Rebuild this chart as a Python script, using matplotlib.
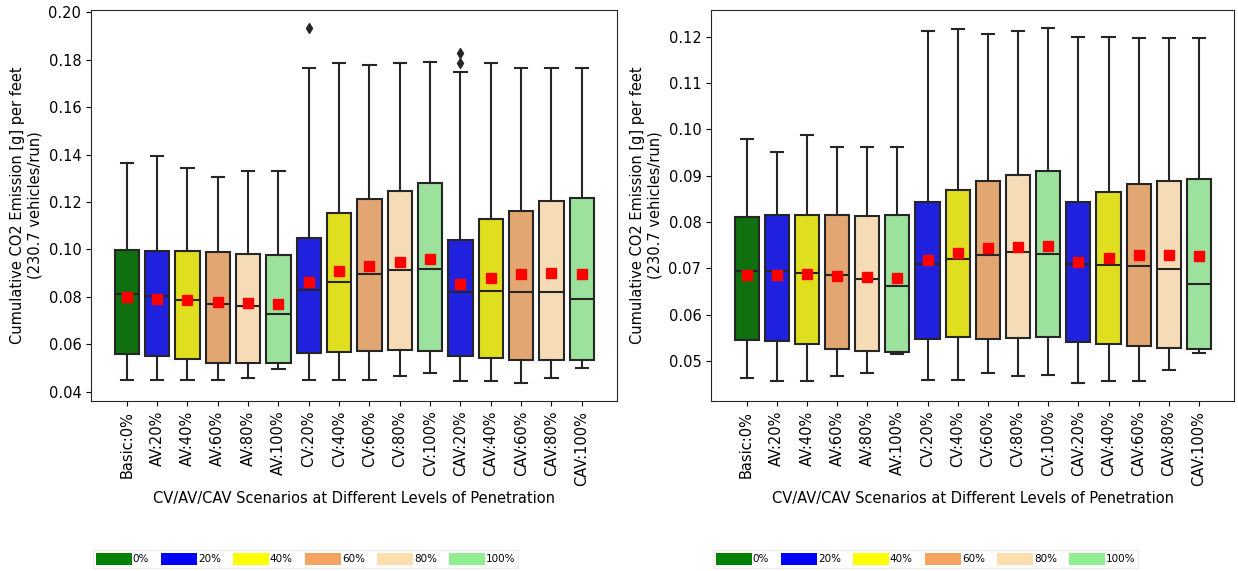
import colorsys

import matplotlib
matplotlib.use("Agg")
import matplotlib.pyplot as plt
import numpy as np
from matplotlib.colors import to_rgb
from matplotlib.patches import Patch

# ---------------------------------------------------------------------------
# Scenario categories and penetration levels
# ---------------------------------------------------------------------------
scenarios = ["Basic:0%", "AV:20%", "AV:40%", "AV:60%", "AV:80%", "AV:100%",
             "CV:20%", "CV:40%", "CV:60%", "CV:80%", "CV:100%",
             "CAV:20%", "CAV:40%", "CAV:60%", "CAV:80%", "CAV:100%"]
levels = ["0%", "20%", "40%", "60%", "80%", "100%"]
level_colors = ["green", "blue", "yellow", "sandybrown", "navajowhite", "lightgreen"]
scenario_level = [0, 1, 2, 3, 4, 5, 1, 2, 3, 4, 5, 1, 2, 3, 4, 5]

# ---------------------------------------------------------------------------
# Left panel: box statistics of cumulative CO2 emission [g] per feet
# ---------------------------------------------------------------------------
left_whislo = [0.0449, 0.0448, 0.0448, 0.0450, 0.0456, 0.0497, 0.0448, 0.0448,
               0.0449, 0.0467, 0.0477, 0.0443, 0.0446, 0.0435, 0.0459, 0.0499]
left_q1 = [0.0560, 0.0549, 0.0537, 0.0520, 0.0520, 0.0519, 0.0561, 0.0567,
           0.0569, 0.0575, 0.0571, 0.0550, 0.0541, 0.0534, 0.0534, 0.0531]
left_med = [0.0811, 0.0803, 0.0785, 0.0768, 0.0760, 0.0729, 0.0829, 0.0861,
            0.0897, 0.0914, 0.0918, 0.0822, 0.0825, 0.0822, 0.0822, 0.0792]
left_mean = [0.0799, 0.0792, 0.0788, 0.0778, 0.0774, 0.0771, 0.0862, 0.0907,
             0.0930, 0.0945, 0.0958, 0.0852, 0.0881, 0.0895, 0.0899, 0.0895]
left_q3 = [0.0998, 0.0993, 0.0991, 0.0989, 0.0979, 0.0976, 0.1046, 0.1152,
           0.1211, 0.1248, 0.1280, 0.1038, 0.1127, 0.1161, 0.1204, 0.1217]
left_whishi = [0.1366, 0.1394, 0.1342, 0.1304, 0.1329, 0.1329, 0.1766, 0.1787,
               0.1780, 0.1785, 0.1790, 0.1747, 0.1785, 0.1766, 0.1766, 0.1766]
left_fliers = {"CV:20%": [0.1935], "CAV:20%": [0.1786, 0.1829]}

# ---------------------------------------------------------------------------
# Right panel: box statistics of cumulative CO2 emission [g] per feet
# ---------------------------------------------------------------------------
right_whislo = [0.0463, 0.0457, 0.0457, 0.0467, 0.0475, 0.0516, 0.0460, 0.0460,
                0.0475, 0.0467, 0.0470, 0.0452, 0.0457, 0.0457, 0.0481, 0.0517]
right_q1 = [0.0546, 0.0544, 0.0536, 0.0526, 0.0521, 0.0519, 0.0547, 0.0551,
            0.0548, 0.0549, 0.0552, 0.0541, 0.0537, 0.0532, 0.0528, 0.0526]
right_med = [0.0695, 0.0695, 0.0690, 0.0686, 0.0677, 0.0661, 0.0710, 0.0721,
             0.0729, 0.0735, 0.0731, 0.0710, 0.0707, 0.0705, 0.0698, 0.0666]
right_mean = [0.0685, 0.0686, 0.0687, 0.0683, 0.0682, 0.0678, 0.0718, 0.0733,
              0.0743, 0.0746, 0.0749, 0.0713, 0.0723, 0.0728, 0.0729, 0.0726]
right_q3 = [0.0810, 0.0815, 0.0815, 0.0815, 0.0812, 0.0815, 0.0843, 0.0869,
            0.0889, 0.0901, 0.0911, 0.0842, 0.0865, 0.0882, 0.0889, 0.0892]
right_whishi = [0.0979, 0.0952, 0.0988, 0.0962, 0.0962, 0.0962, 0.1212, 0.1216,
                0.1206, 0.1212, 0.1219, 0.1199, 0.1199, 0.1198, 0.1198, 0.1198]
right_fliers = {}

left_yticks = [0.04, 0.06, 0.08, 0.10, 0.12, 0.14, 0.16, 0.18, 0.20]
right_yticks = [0.05, 0.06, 0.07, 0.08, 0.09, 0.10, 0.11, 0.12]

ylabel = "Cumulative CO2 Emission [g] per feet\n(230.7 vehicles/run)"
xlabel = "CV/AV/CAV Scenarios at Different Levels of Penetration"

LINE = "#262626"


def desaturate(color, prop=0.75):
    h, l, s = colorsys.rgb_to_hls(*to_rgb(color))
    return colorsys.hls_to_rgb(h, l, s * prop)


def build_stats(whislo, q1, med, mean, q3, whishi, fliers):
    stats = []
    for i, name in enumerate(scenarios):
        stats.append(dict(label=name, whislo=whislo[i], q1=q1[i], med=med[i],
                          mean=mean[i], q3=q3[i], whishi=whishi[i],
                          fliers=np.array(fliers.get(name, []))))
    return stats


def draw_panel(ax, stats, yticks):
    pos = np.arange(len(scenarios))
    art = ax.bxp(stats, positions=pos, widths=0.8, patch_artist=True,
                 showmeans=True, showfliers=True,
                 boxprops=dict(edgecolor=LINE, linewidth=1.5),
                 whiskerprops=dict(color=LINE, linewidth=1.5),
                 capprops=dict(color=LINE, linewidth=1.5),
                 medianprops=dict(color=LINE, linewidth=1.5),
                 meanprops=dict(marker="s", markerfacecolor="red",
                                markeredgecolor="red", markersize=7),
                 flierprops=dict(marker="d", markerfacecolor=LINE,
                                 markeredgecolor=LINE, markersize=5))
    for box, lvl in zip(art["boxes"], scenario_level):
        box.set_facecolor(desaturate(level_colors[lvl]))
    ax.set_xlim(-1.18, len(scenarios) + 0.16)
    ax.set_xticks(pos)
    ax.set_xticklabels(scenarios, rotation=90, fontsize=10.5)
    ax.set_yticks(yticks)
    ax.set_yticklabels([f"{t:.2f}" for t in yticks], fontsize=10.5)
    ax.autoscale(axis="y")
    ax.margins(y=0.05)
    ax.set_ylabel(ylabel, fontsize=10.5)
    ax.set_xlabel(xlabel, fontsize=10.5)
    for sp in ax.spines.values():
        sp.set_color(LINE)


fig = plt.figure(figsize=(12.38, 5.71), dpi=100)
ax1 = fig.add_axes([91 / 1238, 1 - 401 / 571, 526 / 1238, 391 / 571])
ax2 = fig.add_axes([711 / 1238, 1 - 401 / 571, 523 / 1238, 391 / 571])

draw_panel(ax1, build_stats(left_whislo, left_q1, left_med, left_mean,
                            left_q3, left_whishi, left_fliers), left_yticks)
draw_panel(ax2, build_stats(right_whislo, right_q1, right_med, right_mean,
                            right_q3, right_whishi, right_fliers), right_yticks)

handles = [Patch(facecolor=c, edgecolor="none") for c in level_colors]
for x0 in (93 / 1238, 713 / 1238):
    fig.legend(handles, levels, ncol=6, loc="center left",
               bbox_to_anchor=(x0, 1 - 559 / 571), borderaxespad=0,
               fontsize=7.5, handlelength=3.4, handleheight=1.3,
               handletextpad=0.1, columnspacing=1.2, borderpad=0.3,
               fancybox=False, edgecolor="#eeeeee", framealpha=1)

fig.savefig("out.png", dpi=100)
